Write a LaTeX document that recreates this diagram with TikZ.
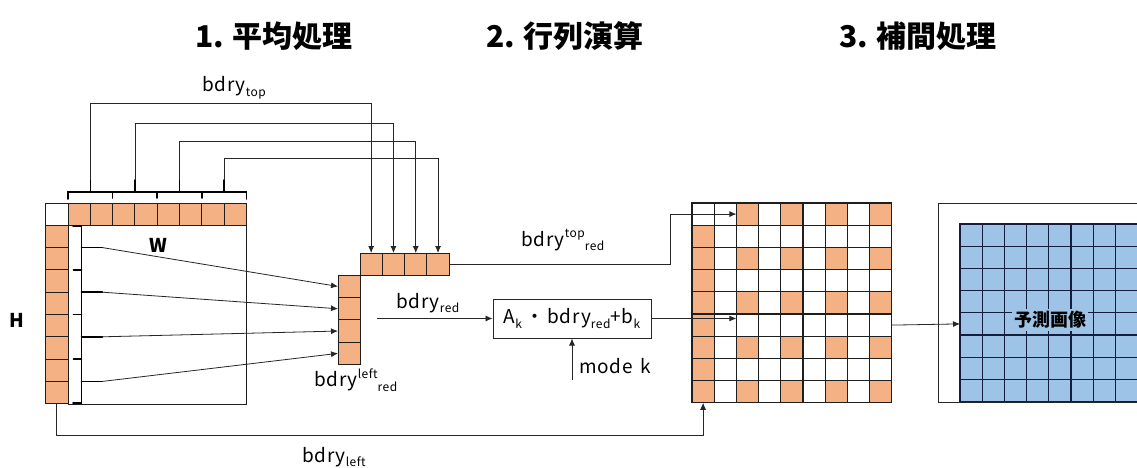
\documentclass[tikz,border=0pt]{standalone}
\usepackage{fontspec}
\setmainfont{Noto Sans CJK JP}
\newfontfamily\lblfont[LetterSpace=4]{Noto Sans CJK JP}
\usetikzlibrary{arrows.meta}
\definecolor{org}{RGB}{244,177,131}
\definecolor{blu}{RGB}{157,195,230}
\definecolor{gridline}{RGB}{30,30,30}
\definecolor{bluline}{RGB}{20,30,60}
\newcommand\supx[1]{\raisebox{0.85ex}{\fontsize{12}{12}\selectfont #1}}
\newcommand\subx[1]{\raisebox{-0.45ex}{\fontsize{12}{12}\selectfont #1}}
\begin{document}
\begin{tikzpicture}[x=1pt,y=-1pt,
  ocell/.style={draw=gridline,fill=org,line width=1pt,minimum size=22.3pt,inner sep=0pt,outer sep=0pt},
  wcell/.style={ocell,fill=white},
  gcell/.style={draw=gridline,line width=1.1pt,minimum size=22.2pt,inner sep=0pt,outer sep=0pt},
  bcell/.style={draw=bluline,fill=blu,line width=1.1pt,minimum size=22.2pt,inner sep=0pt,outer sep=0pt},
  conn/.style={draw=black!85,line width=0.8pt},
  arr/.style={conn,-{Latex[length=7pt,width=6pt]}},
  brk/.style={line width=1.6pt,line cap=round},
  lbl/.style={font=\lblfont\fontsize{19}{19}\selectfont,inner sep=1pt},
  ttl/.style={font=\bfseries\fontsize{30}{30}\selectfont,inner sep=0pt}]
\useasboundingbox (0,0) rectangle (1137,468);
\clip (0,0) rectangle (1137,468);
\fill[white] (0,0) rectangle (1137,468);

% titles
\node[ttl] (t1) at (274,36) {1. 平均処理};
\node[ttl] (t2) at (565,36) {2. 行列演算};
\node[ttl] (t3) at (918,36) {3. 補間処理};

% left block
\node[draw=gridline,line width=1pt,minimum width=178.4pt,minimum height=178.3pt,inner sep=0pt,anchor=north west] (M) at (68,225.3) {};
\node[wcell] (C) at (56.85,214.15) {};
\foreach \i in {0,...,7} {
  \node[ocell] (T\i) at ({68+(\i+0.5)*22.3},214.15) {};
  \node[ocell] (L\i) at (56.85,{225.3+(\i+0.5)*22.3}) {};
}
\node[lbl,font=\bfseries\fontsize{19}{19}\selectfont] (W) at (158,245) {W};
\node[lbl,font=\bfseries\fontsize{19}{19}\selectfont] (H) at (17,320) {H};

% top bracket
\draw[brk] (68,199) -- (68,192) -- (246.4,192) -- (246.4,199);
\foreach \k in {1,2,3} \draw[brk] ({68+2*\k*22.3},192) -- ++(0,6);
\foreach \k in {0,...,3} \draw[brk] ({68+(2*\k+1)*22.3},192) -- ++(0,-12) coordinate (Sp\k);

% left bracket
\draw[brk] (73,226) -- (81.5,226) -- (81.5,403) -- (73,403);
\foreach \k in {1,2,3} \draw[brk] (81.5,{225.3+2*\k*22.3}) -- ++(-8,0);
\foreach \k in {0,...,3} \draw[brk] (81.5,{225.3+(2*\k+1)*22.3}) -- ++(21,0) coordinate (Sl\k);

% reduced boundary
\foreach \k in {0,...,3} {
  \node[ocell] (RT\k) at ({360+(\k+0.5)*22.3},264.15) {};
  \node[ocell] (RL\k) at (349.15,{275.3+(\k+0.5)*22.3}) {};
}
\foreach \k/\h in {0/103,1/123,2/141,3/158}
  \draw[arr] (Sp\k) -- (Sp\k |- 0,\h) -| (RT\k.north);
\foreach \k in {0,...,3}
  \draw[arr] (Sl\k) -- (RL\k.west);

\node[lbl,anchor=west] (lt) at (201,88) {bdry\subx{top}};
\node[lbl,anchor=west] (lrl) at (313,380) {bdry\supx{left}\subx{red}};

% matrix operation
\node[draw=black!85,line width=1pt,minimum width=158pt,minimum height=39pt,inner sep=0pt,
  font=\lblfont\fontsize{19}{19}\selectfont] (box) at (572,318.5) {A\subx{k}\,・\,bdry\subx{red}+b\subx{k}};
\coordinate (rin) at (377,318.5);
\draw[arr] (rin) -- (box.west);
\node[lbl,anchor=west] (lr) at (395,303) {bdry\subx{red}};
\coordinate (mk) at (572,380);
\draw[arr] (mk) -- (box.south);
\node[lbl,anchor=west] (lmk) at (578,366) {mode\hspace{8pt}k};

% interpolation grid
\foreach \r in {0,...,8} {
  \foreach \c in {0,...,8} {
    \pgfmathtruncatemacro\isorg{((\c==0)&&(\r>0))||((\c>1)&&(mod(\c,2)==0)&&(mod(\r,2)==0))}
    \ifnum\isorg=1 \def\fc{org}\else\def\fc{white}\fi
    \node[gcell,fill=\fc] (G-\r-\c) at ({692+(\c+0.5)*22.2},{203+(\r+0.5)*22.2}) {};
  }
}
\coordinate (bend) at (670,0);
\draw[arr] (RT3.east) -- (RT3.east -| bend) |- (G-0-2.west);
\node[lbl,anchor=west] (ltr) at (520,240) {bdry\supx{top}\subx{red}};
\draw[arr] (box.east) -- (box.east -| G-5-2.west);
\draw[arr] (L7.south) -- (L7.south |- 0,435) -| (G-8-0.south);
\node[lbl,anchor=west] (ll) at (301,457) {bdry\subx{left}};

% prediction
\node[draw=black!85,line width=1pt,minimum width=230pt,minimum height=199pt,inner sep=0pt,anchor=north west] (outer) at (938,203) {};
\foreach \r in {0,...,7} {
  \foreach \c in {0,...,7} {
    \node[bcell] (B-\r-\c) at ({960+(\c+0.5)*22.2},{224+(\r+0.5)*22.2}) {};
  }
}
\node[fill=blu,inner sep=2pt,font=\bfseries\fontsize{18}{18}\selectfont] (pred) at (1050,320) {予測画像};
\draw[arr] (G-5-8.east) -- (B-4-0.west);
\end{tikzpicture}
\end{document}
